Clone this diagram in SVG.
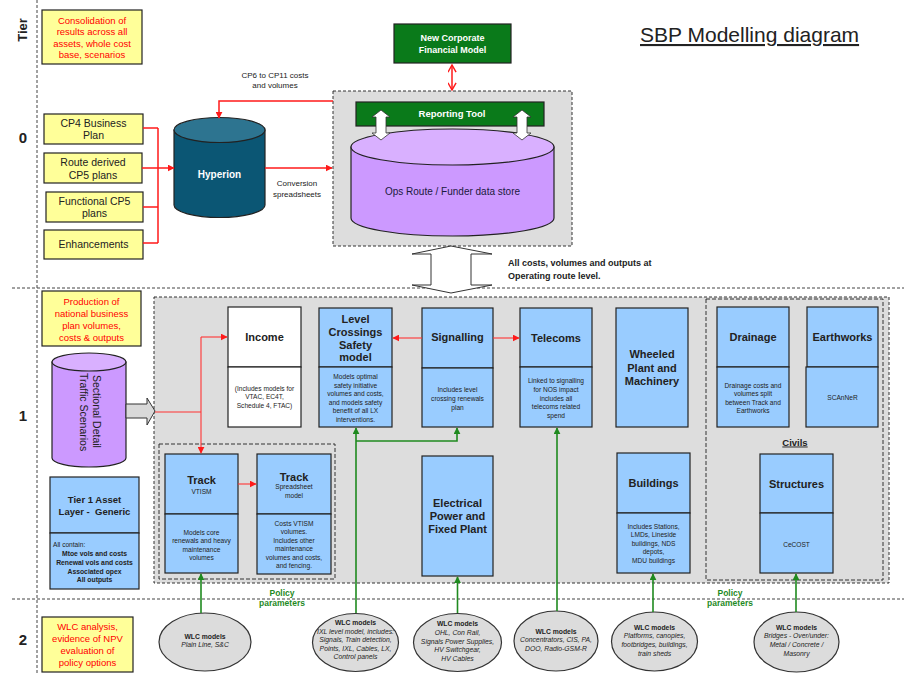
<svg xmlns="http://www.w3.org/2000/svg" width="904" height="673" viewBox="0 0 904 673">
  <defs>
    <style>
      text { font-family: "Liberation Sans", Arial, sans-serif; fill: #222; }
      .yel { fill: #ffff99; stroke: #222; stroke-width: 1.2; }
      .blue { fill: #99ccff; stroke: #222; stroke-width: 1.2; }
      .white { fill: #ffffff; stroke: #222; stroke-width: 1.2; }
      .green { fill: #0a7a1a; stroke: #222; stroke-width: 1.2; }
      .zone { fill: #dddddd; stroke: #333; stroke-width: 1; stroke-dasharray: 3 2; }
      .inner { fill: none; stroke: #333; stroke-width: 1; stroke-dasharray: 4 2; }
      .tierline { fill: none; stroke: #444; stroke-width: 1; stroke-dasharray: 3 2; }
      .red { fill: none; stroke: #ff1a1a; stroke-width: 1.5; }
      .red1 { fill: none; stroke: #ff3333; stroke-width: 1.1; }
      .grn { fill: none; stroke: #1f8a1f; stroke-width: 1.6; }
      .rt { fill: #ff0000; font-size: 9.5px; text-anchor: middle; }
      .bt { font-size: 10.5px; text-anchor: middle; }
      .hd { font-size: 11px; font-weight: bold; text-anchor: middle; }
      .sm { font-size: 6.6px; text-anchor: middle; }
      .smb { font-size: 6.8px; font-weight: bold; text-anchor: middle; }
      .smi { font-size: 6.8px; font-style: italic; text-anchor: middle; }
      .wt { fill: #ffffff; font-size: 9px; font-weight: bold; text-anchor: middle; }
      .tier { font-size: 15px; font-weight: bold; text-anchor: middle; }
      .lbl { font-size: 8px; text-anchor: middle; }
      .pol { fill: #1f8a1f; font-size: 8.5px; font-weight: bold; text-anchor: middle; }
      .wlc { fill: #dcdcdc; stroke: #333; stroke-width: 1.2; }
    </style>
    <marker id="ah-red" viewBox="0 0 10 10" refX="9" refY="5" markerWidth="7" markerHeight="7" markerUnits="userSpaceOnUse" orient="auto">
      <path d="M0,0 L10,5 L0,10 z" fill="#ff1a1a"/>
    </marker>
    <marker id="ah-red-open" viewBox="0 0 10 10" refX="9" refY="5" markerWidth="9" markerHeight="9" markerUnits="userSpaceOnUse" orient="auto-start-reverse">
      <path d="M1,0.5 L9,5 L1,9.5" fill="none" stroke="#ff1a1a" stroke-width="1.6"/>
    </marker>
    <marker id="ah-grn" viewBox="0 0 10 10" refX="9" refY="5" markerWidth="7" markerHeight="7" markerUnits="userSpaceOnUse" orient="auto">
      <path d="M0,0 L10,5 L0,10 z" fill="#1f8a1f"/>
    </marker>
  </defs>

  <rect width="904" height="673" fill="#ffffff"/>

  <!-- tier grid -->
  <g id="tiers">
    <line class="tierline" x1="37" y1="0" x2="37" y2="673"/>
    <line class="tierline" x1="12" y1="288" x2="904" y2="288"/>
    <line class="tierline" x1="12" y1="599" x2="904" y2="599"/>
    <text class="tier" style="font-size:13px" transform="translate(27,30) rotate(-90)">Tier</text>
    <text class="tier" x="23" y="143">0</text>
    <text class="tier" x="23" y="421">1</text>
    <text class="tier" x="23" y="645">2</text>
  </g>

  <text x="640" y="42" style="font-size:21px" text-decoration="underline" fill="#111">SBP Modelling diagram</text>

  <!-- background zones -->
  <rect id="zone-tier0" class="zone" x="333" y="91" width="239" height="155"/>
  <rect id="zone-tier1" class="zone" x="154" y="297" width="735" height="286"/>
  <rect id="zone-track" class="inner" x="159" y="444" width="176" height="135"/>
  <rect id="zone-civils" class="inner" x="706" y="299" width="177" height="281"/>

  <!-- tier 0 -->
  <g id="note-consolidation">
    <rect class="yel" x="42" y="10" width="100" height="54"/>
    <text class="rt" x="92" y="23.5">Consolidation of</text>
    <text class="rt" x="92" y="35">results across all</text>
    <text class="rt" x="92" y="46.5">assets, whole cost</text>
    <text class="rt" x="92" y="58">base, scenarios</text>
  </g>
  <g id="cp4">
    <rect class="yel" x="44" y="114" width="99" height="30"/>
    <text class="bt" x="93.5" y="126.5">CP4 Business</text>
    <text class="bt" x="93.5" y="139">Plan</text>
  </g>
  <g id="route-cp5">
    <rect class="yel" x="44" y="153" width="98" height="30"/>
    <text class="bt" x="93" y="166">Route derived</text>
    <text class="bt" x="93" y="178.5">CP5 plans</text>
  </g>
  <g id="functional-cp5">
    <rect class="yel" x="46" y="192" width="97" height="30"/>
    <text class="bt" x="94.5" y="204.5">Functional CP5</text>
    <text class="bt" x="94.5" y="217">plans</text>
  </g>
  <g id="enhancements">
    <rect class="yel" x="44" y="230" width="99" height="29"/>
    <text class="bt" x="93.5" y="248">Enhancements</text>
  </g>
  <g id="hyperion">
    <path d="M174,130 V205 A45.5,12.5 0 0 0 265,205 V130 Z" fill="#0b5674" stroke="#222" stroke-width="1.2"/>
    <ellipse cx="219.5" cy="130" rx="45.5" ry="12.5" fill="#2d7490" stroke="#222" stroke-width="1.2"/>
    <text class="wt" x="219.5" y="178" style="font-size:10px">Hyperion</text>
  </g>
  <g id="corporate-model">
    <rect class="green" x="394" y="24" width="117" height="39"/>
    <text class="wt" x="452.5" y="41">New Corporate</text>
    <text class="wt" x="452.5" y="53">Financial Model</text>
  </g>
  <g id="data-store">
    <path d="M351,147 V218 A101.5,18 0 0 0 554,218 V147 Z" fill="#cc99ff" stroke="#222" stroke-width="1.2"/>
    <ellipse cx="452.5" cy="147" rx="101.5" ry="18" fill="#d9b0ff" stroke="#222" stroke-width="1.2"/>
    <text class="bt" x="452.5" y="195" style="font-size:10px;fill:#1a1a40">Ops Route / Funder data store</text>
  </g>
  <g id="reporting-tool">
    <rect class="green" x="356" y="102" width="188" height="24"/>
    <text class="wt" x="452" y="117" style="font-size:9.5px">Reporting Tool</text>
    <path d="M381,110 L390,117 L386,117 L386,133 L390,133 L381,140 L372,133 L376,133 L376,117 L372,117 Z" fill="#ffffff" stroke="#333" stroke-width="0.8"/>
    <path d="M522,110 L531,117 L527,117 L527,133 L531,133 L522,140 L513,133 L517,133 L517,117 L513,117 Z" fill="#ffffff" stroke="#333" stroke-width="0.8"/>
  </g>

  <!-- tier 1 -->
  <g id="note-production">
    <rect class="yel" x="42" y="291" width="99" height="55"/>
    <text class="rt" x="91.5" y="304.5">Production of</text>
    <text class="rt" x="91.5" y="316.5">national business</text>
    <text class="rt" x="91.5" y="328.5">plan volumes,</text>
    <text class="rt" x="91.5" y="340.5">costs &amp; outputs</text>
  </g>
  <g id="traffic-scenarios">
    <path d="M52,362 V458 A37,9 0 0 0 126,458 V362 Z" fill="#cc99ff" stroke="#222" stroke-width="1.2"/>
    <ellipse cx="89" cy="362" rx="37" ry="9" fill="#d9b0ff" stroke="#222" stroke-width="1.2"/>
    <text style="font-size:10.5px;text-anchor:start" transform="translate(89,375) rotate(90)" y="-3.5">Sectional Detail</text>
    <text style="font-size:10.5px;text-anchor:start" transform="translate(89,373) rotate(90)" y="9.5">Traffic Scenarios</text>
  </g>
  <g id="tier1-generic">
    <rect class="blue" x="50" y="477" width="89" height="56"/>
    <rect class="blue" x="50" y="533" width="89" height="56"/>
    <text class="hd" x="94.5" y="503" style="font-size:9.5px">Tier 1 Asset</text>
    <text class="hd" x="94.5" y="514.5" style="font-size:9.5px" xml:space="preserve">Layer -  Generic</text>
    <text class="sm" x="53" y="546.5" style="text-anchor:start">All contain:</text>
    <text class="smb" x="94.5" y="555.5">Mtoe vols and costs</text>
    <text class="smb" x="94.5" y="564.5">Renewal vols and costs</text>
    <text class="smb" x="94.5" y="573.5">Associated opex</text>
    <text class="smb" x="94.5" y="582">All outputs</text>
  </g>
  <g id="income">
    <rect class="white" x="228" y="307" width="73" height="60"/>
    <rect class="white" x="228" y="367" width="73" height="60"/>
    <text class="hd" x="264.5" y="341">Income</text>
    <text class="sm" x="264.5" y="390.5">(Includes models for</text>
    <text class="sm" x="264.5" y="399">VTAC, EC4T,</text>
    <text class="sm" x="264.5" y="407.5">Schedule 4, FTAC)</text>
  </g>
  <g id="level-crossings">
    <rect class="blue" x="319" y="308" width="73" height="59"/>
    <rect class="blue" x="319" y="367" width="73" height="60"/>
    <text class="hd" x="355.5" y="323">Level</text>
    <text class="hd" x="355.5" y="336">Crossings</text>
    <text class="hd" x="355.5" y="349">Safety</text>
    <text class="hd" x="355.5" y="361">model</text>
    <text class="sm" x="355.5" y="378.5">Models optimal</text>
    <text class="sm" x="355.5" y="387.5">safety initiative</text>
    <text class="sm" x="355.5" y="396">volumes and costs,</text>
    <text class="sm" x="355.5" y="404.5">and models safety</text>
    <text class="sm" x="355.5" y="413">benefit of all LX</text>
    <text class="sm" x="355.5" y="421.5">interventions.</text>
  </g>
  <g id="signalling">
    <rect class="blue" x="422" y="308" width="71" height="60"/>
    <rect class="blue" x="422" y="368" width="71" height="59"/>
    <text class="hd" x="457.5" y="341">Signalling</text>
    <text class="sm" x="457.5" y="391.5">Includes level</text>
    <text class="sm" x="457.5" y="400.5">crossing renewals</text>
    <text class="sm" x="457.5" y="409.5">plan</text>
  </g>
  <g id="telecoms">
    <rect class="blue" x="520" y="308" width="72" height="59"/>
    <rect class="blue" x="520" y="367" width="72" height="60"/>
    <text class="hd" x="556" y="342">Telecoms</text>
    <text class="sm" x="556" y="382.5">Linked to signalling</text>
    <text class="sm" x="556" y="391.5">for NOS impact</text>
    <text class="sm" x="556" y="400.5">includes all</text>
    <text class="sm" x="556" y="409">telecoms related</text>
    <text class="sm" x="556" y="417.5">spend</text>
  </g>
  <g id="wheeled-plant">
    <rect class="blue" x="616" y="308" width="72" height="119"/>
    <text class="hd" x="652" y="358">Wheeled</text>
    <text class="hd" x="652" y="372">Plant and</text>
    <text class="hd" x="652" y="384.5">Machinery</text>
  </g>
  <g id="drainage">
    <rect class="blue" x="717" y="307" width="72" height="60"/>
    <rect class="blue" x="717" y="367" width="72" height="60"/>
    <text class="hd" x="753" y="341">Drainage</text>
    <text class="sm" x="753" y="387.5">Drainage costs and</text>
    <text class="sm" x="753" y="396">volumes split</text>
    <text class="sm" x="753" y="404.5">between Track and</text>
    <text class="sm" x="753" y="413">Earthworks</text>
  </g>
  <g id="earthworks">
    <rect class="blue" x="807" y="307" width="71" height="60"/>
    <rect class="blue" x="806" y="367" width="72" height="60"/>
    <text class="hd" x="842.5" y="341">Earthworks</text>
    <text class="sm" x="842.5" y="399.5">SCAnNeR</text>
  </g>
  <text x="795" y="445.5" style="font-size:9.5px;font-weight:bold;text-anchor:middle" text-decoration="underline">Civils</text>
  <g id="track-vtism">
    <rect class="blue" x="165" y="454" width="73" height="60"/>
    <rect class="blue" x="165" y="514" width="73" height="59"/>
    <text class="hd" x="201.5" y="484">Track</text>
    <text class="sm" x="201.5" y="493.5">VTISM</text>
    <text class="sm" x="201.5" y="534.5">Models core</text>
    <text class="sm" x="201.5" y="543">renewals and heavy</text>
    <text class="sm" x="201.5" y="551.5">maintenance</text>
    <text class="sm" x="201.5" y="560">volumes</text>
  </g>
  <g id="track-spreadsheet">
    <rect class="blue" x="257" y="454" width="74" height="60"/>
    <rect class="blue" x="257" y="514" width="74" height="60"/>
    <text class="hd" x="294" y="481">Track</text>
    <text class="sm" x="294" y="489">Spreadsheet</text>
    <text class="sm" x="294" y="497.5">model</text>
    <text class="sm" x="294" y="525.5">Costs VTISM</text>
    <text class="sm" x="294" y="534">volumes.</text>
    <text class="sm" x="294" y="542.5">Includes other</text>
    <text class="sm" x="294" y="551">maintenance</text>
    <text class="sm" x="294" y="559.5">volumes and costs,</text>
    <text class="sm" x="294" y="568">and fencing.</text>
  </g>
  <g id="electrical">
    <rect class="blue" x="422" y="456" width="71" height="120"/>
    <text class="hd" x="457.5" y="507">Electrical</text>
    <text class="hd" x="457.5" y="520">Power and</text>
    <text class="hd" x="457.5" y="533">Fixed Plant</text>
  </g>
  <g id="buildings">
    <rect class="blue" x="617" y="453" width="73" height="60"/>
    <rect class="blue" x="617" y="513" width="73" height="60"/>
    <text class="hd" x="653.5" y="487">Buildings</text>
    <text class="sm" x="653.5" y="528.5">Includes Stations,</text>
    <text class="sm" x="653.5" y="537">LMDs, Lineside</text>
    <text class="sm" x="653.5" y="545.5">buildings, NDS</text>
    <text class="sm" x="653.5" y="554">depots,</text>
    <text class="sm" x="653.5" y="562.5">MDU buildings</text>
  </g>
  <g id="structures">
    <rect class="blue" x="760" y="454" width="73" height="59"/>
    <rect class="blue" x="760" y="513" width="73" height="60"/>
    <text class="hd" x="796.5" y="488">Structures</text>
    <text class="sm" x="796.5" y="546.5">CeCOST</text>
  </g>

  <!-- tier 2 -->
  <g id="note-wlc">
    <rect class="yel" x="42" y="617" width="91" height="55"/>
    <text class="rt" x="87.5" y="630">WLC analysis,</text>
    <text class="rt" x="87.5" y="642">evidence of NPV</text>
    <text class="rt" x="87.5" y="654">evaluation of</text>
    <text class="rt" x="87.5" y="666">policy options</text>
  </g>
  <g id="wlc-track">
    <ellipse class="wlc" cx="205" cy="642" rx="46" ry="29"/>
    <text class="smb" x="205" y="638.5">WLC models</text>
    <text class="smi" x="205" y="646.5">Plain Line, S&amp;C</text>
  </g>
  <g id="wlc-signalling">
    <ellipse class="wlc" cx="355.5" cy="642.5" rx="43" ry="29"/>
    <text class="smb" x="355.5" y="624.5">WLC models</text>
    <text class="smi" x="355.5" y="633.5">IXL level model, includes:</text>
    <text class="smi" x="355.5" y="641.5">Signals, Train detection,</text>
    <text class="smi" x="355.5" y="650.5">Points, IXL, Cables, LX,</text>
    <text class="smi" x="355.5" y="658.5">Control panels</text>
  </g>
  <g id="wlc-electrical">
    <ellipse class="wlc" cx="457.5" cy="642.5" rx="44" ry="29"/>
    <text class="smb" x="457.5" y="625.5">WLC models</text>
    <text class="smi" x="457.5" y="634.5">OHL, Con Rail,</text>
    <text class="smi" x="457.5" y="643.5">Signals Power Supplies,</text>
    <text class="smi" x="457.5" y="651.5">HV Switchgear,</text>
    <text class="smi" x="457.5" y="660.5">HV Cables</text>
  </g>
  <g id="wlc-telecoms">
    <ellipse class="wlc" cx="556" cy="641" rx="42" ry="30"/>
    <text class="smb" x="556" y="633.5">WLC models</text>
    <text class="smi" x="556" y="641.5">Concentrators, CIS, PA,</text>
    <text class="smi" x="556" y="650.5">DOO, Radio-GSM-R</text>
  </g>
  <g id="wlc-buildings">
    <ellipse class="wlc" cx="654.5" cy="641.5" rx="43" ry="29.5"/>
    <text class="smb" x="654.5" y="629.5">WLC models</text>
    <text class="smi" x="654.5" y="637.5">Platforms, canopies,</text>
    <text class="smi" x="654.5" y="646.5">footbridges, buildings,</text>
    <text class="smi" x="654.5" y="655.5">train sheds</text>
  </g>
  <g id="wlc-structures">
    <ellipse class="wlc" cx="796.5" cy="642" rx="42.5" ry="30"/>
    <text class="smb" x="796.5" y="629.5">WLC models</text>
    <text class="smi" x="796.5" y="637.5">Bridges - Over/under:</text>
    <text class="smi" x="796.5" y="646.5">Metal / Concrete /</text>
    <text class="smi" x="796.5" y="655.5">Masonry</text>
  </g>

  <!-- connectors -->
  <g id="connectors">
    <!-- tier 0 feeds -->
    <path class="red" d="M143,128 H158 M142,168 H158 M143,207 H158 M143,243 H158 M158,128 V243"/>
    <path class="red" d="M158,168 H174" marker-end="url(#ah-red)"/>
    <path class="red" d="M265,168 H332" marker-end="url(#ah-red)"/>
    <path class="red" d="M333,101 H219 V118" marker-end="url(#ah-red)"/>
    <path class="red" d="M452,65 V90" marker-start="url(#ah-red-open)" marker-end="url(#ah-red-open)"/>
    <text class="lbl" x="275" y="78">CP6 to CP11 costs</text>
    <text class="lbl" x="275" y="88">and volumes</text>
    <text class="lbl" x="297" y="186">Conversion</text>
    <text class="lbl" x="297" y="197">spreadsheets</text>

    <!-- tier 0 to tier 1 exchange -->
    <path d="M451,246 L492,254 L471,254 L471,285 L492,285 L451,293 L412,285 L431,285 L431,254 L412,254 Z" fill="#ffffff" stroke="#333" stroke-width="1"/>
    <text x="508" y="266" style="font-size:9px;font-weight:bold">All costs, volumes and outputs at</text>
    <text x="508" y="279" style="font-size:9px;font-weight:bold">Operating route level.</text>

    <!-- traffic scenarios into tier 1 -->
    <path d="M126,404 H147 V398 L155,411 L147,425 V418 H126 Z" fill="#d9d9d9" stroke="#333" stroke-width="1"/>
    <path class="red1" d="M155,412 H201 M201,337 V412"/>
    <path class="red1" d="M201,412 V453" marker-end="url(#ah-red)"/>
    <path class="red1" d="M201,337 H227" marker-end="url(#ah-red)"/>
    <path class="red1" d="M238,484 H256" marker-end="url(#ah-red)"/>
    <path class="red1" d="M422,338 H393" marker-end="url(#ah-red)"/>
    <path class="red1" d="M493,338 H519" marker-end="url(#ah-red)"/>

    <!-- policy parameters -->
    <path class="grn" d="M201,613 V574" marker-end="url(#ah-grn)"/>
    <path class="grn" d="M356,613 V428" marker-end="url(#ah-grn)"/>
    <path class="grn" d="M356,441 H457 V428" marker-end="url(#ah-grn)"/>
    <path class="grn" d="M457.5,613 V577" marker-end="url(#ah-grn)"/>
    <path class="grn" d="M557,611 V428" marker-end="url(#ah-grn)"/>
    <path class="grn" d="M653,612 V574" marker-end="url(#ah-grn)"/>
    <path class="grn" d="M796,612 V574" marker-end="url(#ah-grn)"/>
    <text class="pol" x="282" y="596">Policy</text>
    <text class="pol" x="282" y="606">parameters</text>
    <text class="pol" x="730" y="596">Policy</text>
    <text class="pol" x="730" y="606">parameters</text>
  </g>
</svg>
